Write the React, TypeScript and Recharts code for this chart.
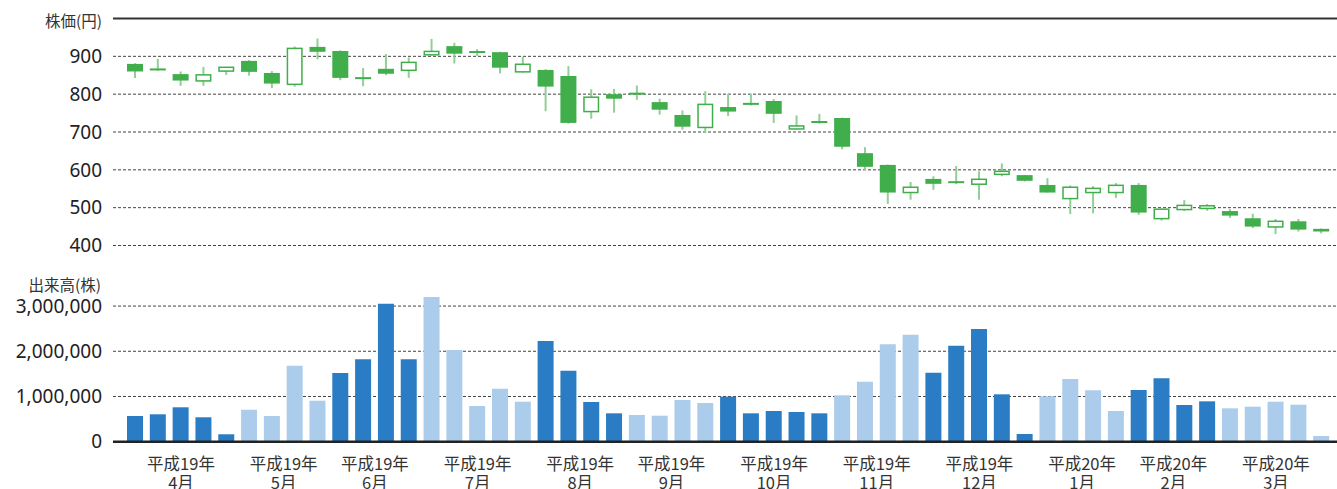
import React from 'react';
import { ComposedChart, BarChart, Bar, XAxis, YAxis, CartesianGrid, ReferenceLine, Cell } from 'recharts';

// weekly candles, 平成19年4月 - 平成20年3月
const opens = [880, 868, 853, 835, 861, 888, 856, 826, 925, 914, 845, 867, 863, 904, 927, 914, 911, 859, 864, 848, 754, 800, 804, 779, 745, 712, 766, 777, 782, 708, 729, 737, 644, 613, 540, 576, 570, 562, 588, 586, 560, 524, 540, 540, 560, 471, 495, 498, 491, 472, 449, 464, 444];
const closes = [860, 863, 836, 851, 871, 859, 828, 921, 912, 843, 843, 854, 884, 913, 907, 912, 870, 879, 820, 724, 792, 788, 802, 759, 714, 773, 754, 773, 748, 716, 727, 661, 608, 540, 554, 563, 568, 575, 596, 571, 540, 554, 551, 559, 487, 496, 506, 505, 479, 450, 464, 442, 437];
const highs = [882, 893, 860, 872, 872, 890, 861, 926, 947, 916, 869, 906, 897, 946, 936, 919, 912, 899, 866, 874, 813, 814, 823, 788, 757, 808, 801, 801, 787, 744, 748, 738, 660, 614, 568, 583, 610, 596, 617, 586, 578, 559, 557, 565, 565, 497, 520, 510, 496, 484, 470, 470, 445];
const lows = [843, 862, 822, 822, 851, 849, 816, 820, 892, 837, 821, 850, 843, 902, 881, 901, 855, 857, 755, 722, 735, 751, 785, 746, 706, 697, 742, 770, 724, 707, 722, 654, 600, 510, 521, 547, 562, 521, 583, 569, 540, 483, 485, 526, 481, 466, 491, 492, 473, 446, 430, 437, 432];
const volumes = [569000, 606000, 761000, 540000, 164000, 708000, 569000, 1681000, 907000, 1520000, 1823000, 3053000, 1823000, 3201000, 2029000, 790000, 1173000, 885000, 2228000, 1571000, 878000, 628000, 591000, 575000, 922000, 856000, 996000, 628000, 679000, 657000, 628000, 1026000, 1327000, 2155000, 2367000, 1527000, 2124000, 2493000, 1048000, 170000, 1004000, 1387000, 1137000, 679000, 1144000, 1403000, 812000, 893000, 738000, 775000, 885000, 819000, 126000];

const monthYears = ['平成19年', '平成19年', '平成19年', '平成19年', '平成19年', '平成19年', '平成19年', '平成19年', '平成19年', '平成20年', '平成20年', '平成20年'];
const monthNames = ['4月', '5月', '6月', '7月', '8月', '9月', '10月', '11月', '12月', '1月', '2月', '3月'];
const monthWeeks = [5, 4, 4, 5, 4, 4, 5, 4, 5, 4, 4, 5];

const priceTicks = [400, 500, 600, 700, 800, 900];
const volumeTicks = [0, 1000000, 2000000, 3000000];

const GREEN = '#40ae4a';
const WICK = '#90d097';
const DARK_BLUE = '#2a7dc4';
const LIGHT_BLUE = '#abcdeb';
const FONT = '"Noto Sans CJK JP", "Noto Sans", sans-serif';
const NUM_FONT = '"Noto Sans", sans-serif';

const weekMonth: number[] = [];
monthWeeks.forEach((n, m) => { for (let i = 0; i < n; i++) weekMonth.push(m); });

const data = opens.map((o, i) => ({
  idx: i,
  open: o,
  close: closes[i],
  high: highs[i],
  low: lows[i],
  volume: volumes[i],
  month: weekMonth[i],
}));

let acc = 0;
const monthCenters = monthWeeks.map((n) => {
  const c = acc + (n - 1) / 2;
  acc += n;
  return c;
});

const Candle = (props: any) => {
  const { x, y, width, height, payload } = props;
  const top = Math.min(y, y + height);
  const h = Math.abs(height);
  const range = payload.high - payload.low;
  const k = range > 0 ? h / range : 0;
  const yOf = (v: number) => top + (payload.high - v) * k;
  const cx = x + width / 2;
  const up = payload.close > payload.open;
  const bTop = yOf(Math.max(payload.open, payload.close));
  const bBot = yOf(Math.min(payload.open, payload.close));
  return (
    <g>
      <line x1={cx} x2={cx} y1={top} y2={top + h} stroke={WICK} strokeWidth={2} />
      {up ? (
        <rect x={x + 0.75} y={bTop} width={width - 1.5} height={Math.max(bBot - bTop, 1)} fill="#fff" stroke={GREEN} strokeWidth={1.5} />
      ) : (
        <rect x={x} y={bTop} width={width} height={Math.max(bBot - bTop, 2)} fill={GREEN} />
      )}
    </g>
  );
};

const MonthTick = (props: any) => {
  const { x, y, payload } = props;
  const m = monthCenters.indexOf(payload.value);
  if (m < 0) return null;
  return (
    <text x={x} y={y} textAnchor="middle" fill="#333" fontSize={16.5} fontFamily={FONT}>
      <tspan x={x} dy={20}>{monthYears[m]}</tspan>
      <tspan x={x} dy={19}>{monthNames[m]}</tspan>
    </text>
  );
};

const fmt = (v: number) => v.toLocaleString('en-US');

const pad = { left: 11, right: 4 };

const App = () => {
  return (
    <div style={{ position: 'absolute', left: 0, top: 0, width: 1337, height: 489, background: '#fff', fontFamily: FONT }}>
      <div style={{ position: 'absolute', right: 1337 - 102, top: 9, fontSize: 15.5, color: '#333', whiteSpace: 'nowrap' }}>株価(円)</div>
      <div style={{ position: 'absolute', right: 1337 - 101, top: 273, fontSize: 15.5, color: '#333', whiteSpace: 'nowrap' }}>出来高(株)</div>
      <div style={{ position: 'absolute', left: 0, top: 0 }}>
        <ComposedChart width={1337} height={260} data={data} margin={{ top: 18.5, right: 0, bottom: 14.5, left: 0 }} barSize={16}>
          <CartesianGrid vertical={false} stroke="#444" strokeDasharray="3 2" horizontalValues={priceTicks} />
          <XAxis dataKey="idx" hide height={0} padding={pad} />
          <YAxis
            width={113}
            domain={[400, 1000]}
            ticks={priceTicks}
            axisLine={false}
            tickLine={false}
            tickSize={0}
            tickMargin={11}
            tick={{ fill: '#222', fontSize: 19, fontFamily: NUM_FONT }}
          />
          <ReferenceLine y={1000} stroke="#333" strokeWidth={2} />
          <Bar dataKey={(d: any) => [d.low, d.high]} shape={<Candle />} isAnimationActive={false} />
        </ComposedChart>
      </div>
      <div style={{ position: 'absolute', left: 0, top: 260 }}>
        <BarChart width={1337} height={229} data={data} margin={{ top: 32.5, right: 0, bottom: 0, left: 0 }} barSize={16}>
          <CartesianGrid vertical={false} stroke="#444" strokeDasharray="3 2" horizontalValues={volumeTicks.slice(1)} />
          <XAxis dataKey="idx" hide height={0} padding={pad} />
          <XAxis
            xAxisId="m"
            type="number"
            dataKey="idx"
            domain={[-0.5, 52.5]}
            ticks={monthCenters}
            interval={0}
            padding={pad}
            height={47.3}
            axisLine={{ stroke: '#222', strokeWidth: 2.5 }}
            tickLine={false}
            tick={<MonthTick />}
          />
          <YAxis
            width={113}
            domain={[0, 3300000]}
            ticks={volumeTicks}
            axisLine={false}
            tickLine={false}
            tickSize={0}
            tickMargin={11}
            tickFormatter={fmt}
            tick={{ fill: '#222', fontSize: 19, fontFamily: NUM_FONT }}
          />
          <Bar dataKey="volume" isAnimationActive={false}>
            {data.map((d) => (
              <Cell key={d.idx} fill={d.month % 2 === 0 ? DARK_BLUE : LIGHT_BLUE} />
            ))}
          </Bar>
        </BarChart>
      </div>
    </div>
  );
};

export default App;
